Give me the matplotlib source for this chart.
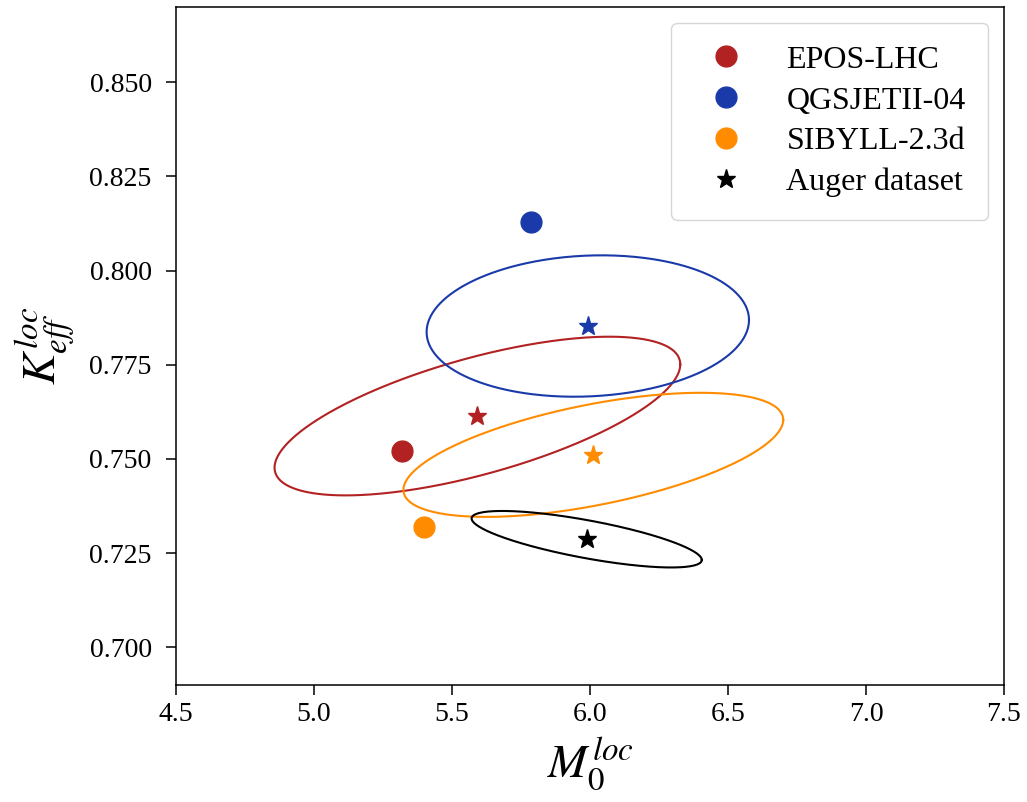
import numpy as np
import matplotlib.pyplot as plt

plt.rcParams['font.family'] = ['Liberation Serif', 'DejaVu Serif']
plt.rcParams['mathtext.fontset'] = 'stix'

models = ['EPOS-LHC', 'QGSJETII-04', 'SIBYLL-2.3d']
colors = ['#b22222', '#1a3aaa', '#ff8c00']

# model predictions (dots)
model_m0 = [5.32, 5.785, 5.40]
model_k = [0.752, 0.8128, 0.732]

# fitted values (stars), last one = Auger dataset
fit_m0 = [5.592, 5.992, 6.012, 5.988]
fit_k = [0.7614, 0.7853, 0.7511, 0.7287]

# contour ellipses: half-width in M0, half-height in K, and tilt (K shift at the M0 extreme)
ell_rx = [0.735, 0.584, 0.688, 0.417]
ell_ry = [0.0160, 0.0187, 0.0136, 0.0051]
ell_s = [0.0137, 0.0016, 0.0093, -0.0055]

fig = plt.figure(figsize=(10.27, 8.02), dpi=100)
ax = fig.add_axes([0.1714, 0.1459, 0.8062, 0.8454])

t = np.linspace(0, 2 * np.pi, 400)
ell_colors = colors + ['black']
for i in range(4):
    x = fit_m0[i] + ell_rx[i] * np.cos(t)
    y = fit_k[i] + ell_s[i] * np.cos(t) + ell_ry[i] * np.sin(t)
    ax.plot(x, y, color=ell_colors[i], lw=1.5)

for i in range(3):
    ax.plot(model_m0[i], model_k[i], 'o', color=colors[i], ms=15, label=models[i])
    ax.plot(fit_m0[i], fit_k[i], '*', color=colors[i], ms=14)
ax.plot(fit_m0[3], fit_k[3], '*', color='black', ms=14, label='Auger dataset')

ax.set_xlim(4.5, 7.5)
ax.set_ylim(0.69, 0.87)
ax.set_xticks(np.arange(4.5, 7.51, 0.5))
ax.set_yticks(np.arange(0.700, 0.851, 0.025))
ax.set_yticklabels(['%.3f' % v for v in np.arange(0.700, 0.851, 0.025)])
ax.tick_params(labelsize=20, length=7.5, width=1.1)
ax.tick_params(axis='x', pad=5)
ax.tick_params(axis='y', pad=10)
for sp in ax.spines.values():
    sp.set_linewidth(1.1)

ax.set_xlabel(r'$M_0^{loc}$', fontsize=34, labelpad=6)
ax.set_ylabel(r'$K_{eff}^{loc}$', fontsize=34, labelpad=8)

ax.legend(loc='upper right', fontsize=23, borderpad=0.7, handletextpad=0.9,
          labelspacing=0.36, borderaxespad=0.5, framealpha=0.8)

fig.savefig('out.png', dpi=100)
